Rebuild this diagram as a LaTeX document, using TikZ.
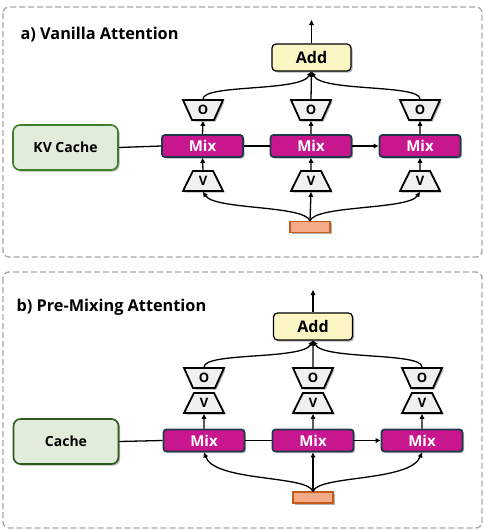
\documentclass[tikz,border=0pt]{standalone}
\usepackage{fontspec}
\setmainfont{Open Sans}
\usetikzlibrary{shapes.geometric,shadows,arrows.meta}
\definecolor{mixfill}{HTML}{C8168F}
\definecolor{mixdraw}{HTML}{1E3A48}
\definecolor{addfill}{HTML}{FBF6C3}
\definecolor{cachefill}{HTML}{E2ECDB}
\definecolor{cachedraw}{HTML}{3F7F2A}
\definecolor{trapfill}{HTML}{F0F0F0}
\definecolor{inpfill}{HTML}{F4AA86}
\definecolor{inpdraw}{HTML}{C55A1A}
\definecolor{panel}{HTML}{A8A8A8}
\tikzset{
  shad/.style={drop shadow={shadow xshift=1.6pt,shadow yshift=-1.6pt,opacity=0.3,fill=black}},
  panelbox/.style={draw=panel,dashed,line width=1.3pt,dash pattern=on 6pt off 3pt,rounded corners=6pt},
  title/.style={anchor=west,font=\bfseries\fontsize{16.3}{19}\selectfont},
  mixbox/.style={shad,draw=mixdraw,fill=mixfill,line width=1.8pt,rounded corners=3pt,minimum width=81pt,minimum height=22pt,inner sep=0pt,text=white,font=\bfseries\fontsize{15}{17}\selectfont},
  addbox/.style={shad,draw=black,fill=addfill,line width=1.2pt,rounded corners=4pt,minimum width=79pt,minimum height=27pt,inner sep=0pt,font=\bfseries\fontsize{16}{18}\selectfont},
  cachebox/.style={shad,draw=cachedraw,fill=cachefill,line width=1.6pt,rounded corners=7pt,minimum width=105pt,minimum height=45pt,inner sep=0pt,font=\bfseries\fontsize{14}{16}\selectfont},
  trap/.style={shad,trapezium,trapezium stretches=true,trapezium angle=66,draw=black,fill=trapfill,line width=1.8pt,minimum width=40pt,minimum height=20pt,inner sep=0pt,font=\bfseries\fontsize{13}{14}\selectfont},
  obox/.style={trap,shape border rotate=180},
  vbox/.style={trap},
  inpbox/.style={shad,draw=inpdraw,fill=inpfill,line width=1.1pt,minimum width=40pt,minimum height=11pt,inner sep=0pt},
  conn/.style={line width=1.3pt},
  arr/.style={conn,-{Triangle[length=5pt,width=4.5pt]}},
}
\begin{document}
\begin{tikzpicture}[x=1pt,y=-1pt]
\useasboundingbox (0,0) rectangle (484,530);
% panels
\draw[panelbox] (3,7) rectangle (482,257);
\draw[panelbox] (3,272) rectangle (482,528);

% ---------- panel a ----------
\node[title] (ta) at (17,35) {a) Vanilla Attention};
\node[cachebox] (kv) at (65.5,147.5) {KV Cache};
\node[mixbox] (am1) at (202.5,146) {Mix};
\node[mixbox] (am2) at (311,146) {Mix};
\node[mixbox] (am3) at (420,146) {Mix};
\node[addbox] (aadd) at (311.5,57.5) {Add};
\coordinate (aout) at (311.5,20);
\foreach \i/\x in {1/203,2/311,3/420}{
  \node[obox] (ao\i) at (\x,110) {O};
  \node[vbox] (av\i) at (\x,181) {V};
}
\node[inpbox] (ain) at (310,227) {};

\draw[conn] (kv.east) -- (am1.west);
\draw[conn] (am1.east) -- (am2.west);
\draw[arr] (am2.east) -- (am3.west);
\draw[arr] (aadd.north) -- (aout);
\foreach \i in {1,2,3}{
  \draw[arr] (av\i.north) -- (am\i.south);
  \draw[arr] (am\i.north) -- (ao\i.south);
}
\draw[arr] (ain.north) -- (av2.south);
\draw[arr] (ain.north) .. controls (305,205) and (215,210) .. (av1.south);
\draw[arr] (ain.north) .. controls (315,205) and (408,210) .. (av3.south);
\draw[arr] (ao2.north) -- (aadd.south);
\draw[arr] (ao1.north) .. controls (203,84) and (300,92) .. (aadd.south);
\draw[arr] (ao3.north) .. controls (420,84) and (322,92) .. (aadd.south);

% ---------- panel b ----------
\node[title] (tb) at (13,307) {b) Pre-Mixing Attention};
\node[cachebox,draw=cachedraw!70!black] (bc) at (66,441.5) {Cache};
\node[mixbox] (bm1) at (204,440.5) {Mix};
\node[mixbox] (bm2) at (313,440.5) {Mix};
\node[mixbox] (bm3) at (422,440.5) {Mix};
\node[addbox] (badd) at (313,326.5) {Add};
\coordinate (bout) at (313,290);
\foreach \i/\x in {1/204,2/313,3/422}{
  \node[obox] (bo\i) at (\x,378) {O};
  \node[vbox] (bv\i) at (\x,403) {V};
}
\node[inpbox] (bin) at (313,497.5) {};

\draw[conn] (bc.east) -- (bm1.west);
\draw[conn] (bm1.east) -- (bm2.west);
\draw[arr] (bm2.east) -- (bm3.west);
\draw[arr] (badd.north) -- (bout);
\foreach \i in {1,2,3}{
  \draw[arr] (bm\i.north) -- (bv\i.south);
}
\draw[arr] (bin.north) -- (bm2.south);
\draw[arr] (bin.north) .. controls (308,475) and (215,482) .. (bm1.south);
\draw[arr] (bin.north) .. controls (318,475) and (410,482) .. (bm3.south);
\draw[arr] (bo2.north) -- (badd.south);
\draw[arr] (bo1.north) .. controls (204,352) and (302,360) .. (badd.south);
\draw[arr] (bo3.north) .. controls (422,352) and (324,360) .. (badd.south);
\end{tikzpicture}
\end{document}
